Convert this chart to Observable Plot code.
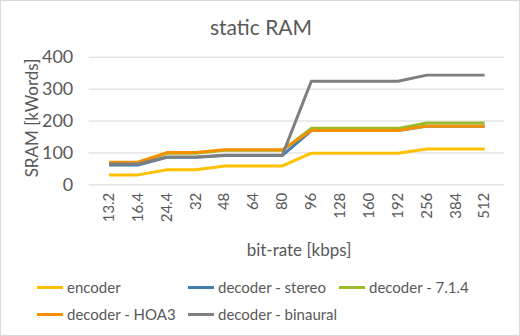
<!DOCTYPE html>
<html>
<head>
<meta charset="utf-8">
<script src="https://cdn.jsdelivr.net/npm/d3@7"></script>
<script src="https://cdn.jsdelivr.net/npm/@observablehq/plot@0.6"></script>
<style>
  html, body { margin: 0; padding: 0; background: #fff; }
  #chart { position: relative; width: 518px; height: 334px; border: 1px solid #D9D9D9; overflow: hidden; font-family: Lato, "Open Sans", sans-serif; color: #595959; }
  #chart svg { position: absolute; left: -1px; top: -1px; }
  .title { position: absolute; left: 0; width: 520px; top: 13px; text-align: center; font-size: 21px; }
  .ylab { position: absolute; left: 30px; top: 117px; transform: translate(-50%, -50%) rotate(-90deg); font-size: 17px; white-space: nowrap; }
  .xlab { position: absolute; left: 0; width: 596px; top: 238px; text-align: center; font-size: 17px; }
  .leg { position: absolute; font-size: 15px; white-space: nowrap; display: flex; align-items: center; }
  .leg span.sw { display: inline-block; width: 26px; height: 3px; margin-right: 4px; }
</style>
</head>
<body>
<div id="chart"></div>
<script>
const rates = ["13.2","16.4","24.4","32","48","64","80","96","128","160","192","256","384","512"];
const encoder  = [31,31,47,47,59,59,59,99,99,99,99,112,112,112];
const stereo   = [62,62,86,86,92,92,92,170,170,170,170,184,184,184];
const dec714   = [70,70,99,99,108,108,108,177,177,177,177,194,194,194];
const hoa3     = [71,71,101,101,110,110,110,170,170,170,170,184,184,184];
const binaural = [65,65,87,87,93,93,93,325,325,325,325,344,344,344];
const seriesNames = ["encoder","decoder - stereo","decoder - 7.1.4","decoder - HOA3","decoder - binaural"];
const seriesColors = ["#FFC000","#3F7FB2","#9BBB2A","#F59100","#7F7F7F"];
const yTicks = [0,100,200,300,400];

const seriesValues = [encoder, stereo, dec714, hoa3, binaural];
const data = [];
seriesValues.forEach((vals, i) => vals.forEach((v, j) => data.push({rate: rates[j], value: v, series: seriesNames[i]})));

const chart = document.getElementById("chart");

const svg = Plot.plot({
  width: 520,
  height: 336,
  marginLeft: 89,
  marginRight: 14,
  marginTop: 57,
  marginBottom: 151,
  style: {fontFamily: "Lato, 'Open Sans', sans-serif", fontSize: "15px", color: "#595959", background: "transparent"},
  x: {type: "point", domain: rates, padding: 0.5, label: null},
  y: {domain: [0, 400], label: null},
  color: {domain: seriesNames, range: seriesColors},
  marks: [
    Plot.gridY(yTicks, {stroke: "#D9D9D9", strokeOpacity: 1, strokeWidth: 1}),
    Plot.axisY(yTicks, {tickSize: 0, tickPadding: 16, fontSize: 18, label: null}),
    Plot.axisX({tickSize: 0, tickRotate: -90, tickPadding: 8, fontSize: 15, label: null}),
    Plot.line(data, {x: "rate", y: "value", z: "series", stroke: "series", strokeWidth: 3, strokeLinejoin: "round", strokeLinecap: "butt"})
  ]
});
chart.appendChild(svg);

function addDiv(cls, text, styles) {
  const d = document.createElement("div");
  d.className = cls;
  d.textContent = text;
  Object.assign(d.style, styles || {});
  chart.appendChild(d);
  return d;
}
addDiv("title", "static RAM");
addDiv("ylab", "SRAM [kWords]");
addDiv("xlab", "bit-rate [kbps]");

const legPos = [[37,286],[188,286],[339,286],[37,313],[188,313]];
seriesNames.forEach((name, i) => {
  const d = document.createElement("div");
  d.className = "leg";
  d.style.left = (legPos[i][0] - 1) + "px";
  d.style.top = (legPos[i][1] - 10) + "px";
  d.style.height = "20px";
  const sw = document.createElement("span");
  sw.className = "sw";
  sw.style.background = seriesColors[i];
  d.appendChild(sw);
  d.appendChild(document.createTextNode(name));
  chart.appendChild(d);
});
</script>
</body>
</html>
